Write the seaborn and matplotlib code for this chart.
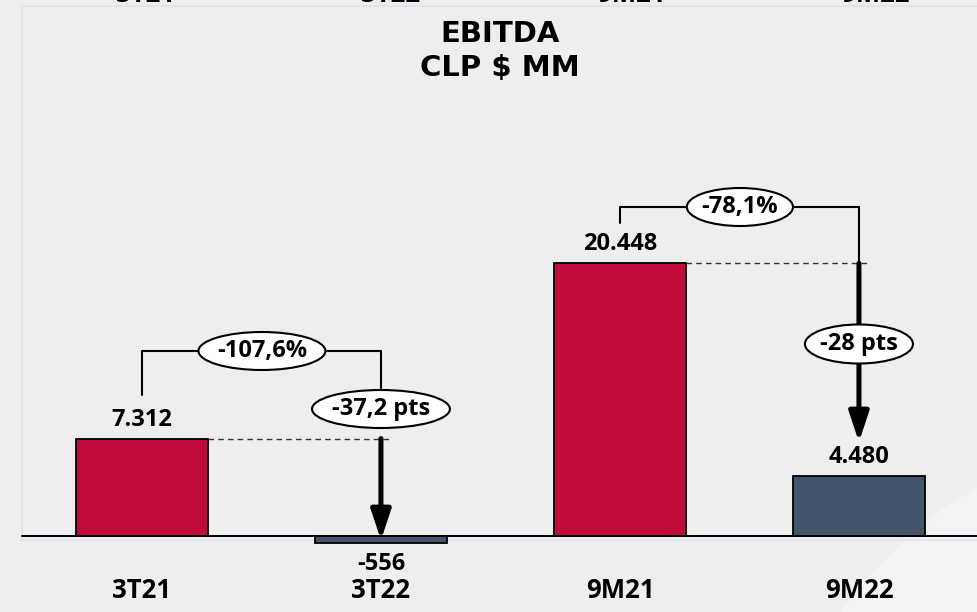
import matplotlib
matplotlib.use("Agg")
import matplotlib.pyplot as plt
from matplotlib.patches import Ellipse, Polygon
import seaborn as sns
import pandas as pd

# data
periods = ["3T21", "3T22", "9M21", "9M22"]
ebitda = [7312, -556, 20448, 4480]
value_labels = ["7.312", "-556", "20.448", "4.480"]
bar_colors = ["#C10C3B", "#44546A", "#C10C3B", "#44546A"]

# comparisons: (from bar, to bar, % change, margin change)
pct_labels = ["-107,6%", "-78,1%"]
pts_labels = ["-37,2 pts", "-28 pts"]
pairs = [(0, 1), (2, 3)]

sns.set_style("white")
plt.rcParams["font.family"] = ["Open Sans", "DejaVu Sans"]
plt.rcParams["text.color"] = "black"

df = pd.DataFrame({"period": periods, "ebitda": ebitda})

fig = plt.figure(figsize=(9.77, 6.12), dpi=100, facecolor="#EEEEEE")
ax = fig.add_axes([0, 0, 1, 1])
ax.set_facecolor("#EEEEEE")

sns.barplot(data=df, x="period", y="ebitda", hue="period", palette=bar_colors,
            legend=False, width=0.552, edgecolor="black", linewidth=1.3, ax=ax,
            saturation=1, zorder=3)

k = 75.0  # data units per pixel
ax.set_xlim(-0.594, 3.494)
ax.set_ylim(-(612 - 536) * k, 536 * k)
ax.axis("off")

# faint frame and watermark
frame = dict(color="#DCE2EC", lw=1.2, transform=ax.transAxes, zorder=1)
ax.plot([22 / 977, 1], [1 - 6 / 612, 1 - 6 / 612], **frame)
ax.plot([22 / 977, 22 / 977], [1 - 6 / 612, 1 - 540 / 612], **frame)
ax.plot([22 / 977, 1], [1 - 540 / 612, 1 - 540 / 612], **frame)
wm = [(840, 612), (870, 575), (905, 540), (940, 510), (977, 488), (977, 612)]
ax.add_patch(Polygon([(x / 977, 1 - y / 612) for x, y in wm], closed=True,
                     transform=ax.transAxes, facecolor="#F3F3F3", edgecolor="none", zorder=0))

# baseline
ax.plot([22 / 977, 1], [1 - 536 / 612, 1 - 536 / 612], color="black", lw=1.4,
        transform=ax.transAxes, zorder=4)

# value labels
for i, (v, lab) in enumerate(zip(ebitda, value_labels)):
    off = 19 if v >= 0 else -21
    ax.annotate(lab, (i, v), xytext=(0, off), textcoords="offset pixels",
                ha="center", va="center", fontsize=17, fontweight="bold", zorder=6)

# category labels
for i, p in enumerate(periods):
    ax.text(i, -54 * k, p, ha="center", va="center", fontsize=18.5, fontweight="bold")

# labels of the slide above, cut at the top edge
ghost_x = [0.013, 1.04, 2.05, 3.07]
for gx, p in zip(ghost_x, periods):
    ax.text(gx, 533.5 * k, p, ha="center", va="baseline", fontsize=18.5, fontweight="bold")

# title
fig.text(0.512, 1 - 34 / 612, "EBITDA", ha="center", va="center", fontsize=21,
         fontweight="bold", family="DejaVu Sans")
fig.text(0.512, 1 - 68 / 612, "CLP $ MM", ha="center", va="center", fontsize=21,
         fontweight="bold", family="DejaVu Sans")


def oval(x, y, w, h, text):
    ax.add_patch(Ellipse((x, y), w, h, facecolor="white", edgecolor="black", lw=1.5, zorder=7))
    ax.text(x, y, text, ha="center", va="center", fontsize=17, fontweight="bold", zorder=8)


def arrow(x, y0, y1):
    ax.annotate("", xy=(x, y1), xytext=(x, y0),
                arrowprops=dict(arrowstyle="-|>,head_length=0.9,head_width=0.3",
                                lw=3.6, color="black", mutation_scale=20,
                                shrinkA=0, shrinkB=0), zorder=5)


half = 0.276
# 3T21 -> 3T22
a, b = pairs[0]
top = 185 * k
ax.plot([a, a, b, b], [141 * k, top, top, 146 * k], color="black", lw=1.5, zorder=5)
ax.plot([a + half, b + 0.038], [ebitda[a], ebitda[a]], color="#333333", lw=1, ls=(0, (4, 3)), zorder=5)
arrow(b, ebitda[a], -4 * k)
oval(a + 0.502, top, 0.531, 38 * k, pct_labels[0])
oval(b, 127 * k, 0.577, 38 * k, pts_labels[0])

# 9M21 -> 9M22
a, b = pairs[1]
top = 329 * k
ax.plot([a, a, b, b], [313 * k, top, top, ebitda[a]], color="black", lw=1.5, zorder=5)
ax.plot([a + half, b + 0.038], [ebitda[a], ebitda[a]], color="#333333", lw=1, ls=(0, (4, 3)), zorder=5)
arrow(b, ebitda[a], 94 * k)
oval(a + 0.502, top, 0.444, 38 * k, pct_labels[1])
oval(b, 192 * k, 0.452, 39 * k, pts_labels[1])

fig.savefig("out.png", dpi=100, facecolor=fig.get_facecolor())
